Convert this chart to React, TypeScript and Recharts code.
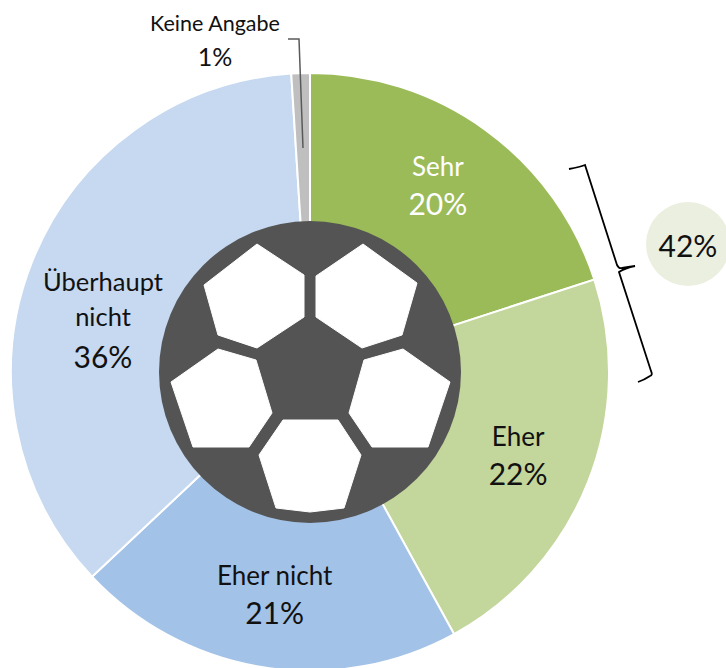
import React from "react";
import { PieChart, Pie, Cell } from "recharts";

const categories = ["Sehr", "Eher", "Eher nicht", "Überhaupt nicht", "Keine Angabe"];
const shares = [20, 22, 21, 36, 1];
const sliceColors = ["#9BBB59", "#C3D69B", "#A3C2E7", "#C6D9F0", "#BFBFBF"];
const totalLabel = "42%";

const chartData = categories.map((name, i) => ({ name, value: shares[i] }));

const FONT = "Lato, 'Open Sans', sans-serif";
const CX = 310;
const CY = 372;
const RADIUS = 299;

// Fußball-Flecken
const BALL_PATCHES = [
  "257,244 304,275 304,317 257,348 218,335 204,285",
  "363,244 417,283 402,335 362,348 316,317 316,276",
  "218,349 256,360 272,413 249,447 193,447 171,382",
  "403,349 450,382 428,447 372,447 349,413 364,360",
  "283,420 338,420 361,455 344,508 310,512 276,508 259,455",
];

const renderLabel = (props: any) => {
  const { midAngle, index, name, value } = props;
  const rad = (midAngle * Math.PI) / 180;
  const x = CX + 226 * Math.cos(rad);
  const y = CY - 226 * Math.sin(rad);
  const percent = `${value}%`;

  if (index === 4) {
    return (
      <g key="label-4" fontFamily={FONT} fill="#111" textAnchor="middle">
        <text x={215} y={31} fontSize={21.5}>{name}</text>
        <text x={215} y={66} fontSize={25}>{percent}</text>
      </g>
    );
  }
  if (index === 3) {
    return (
      <g key="label-3" fontFamily={FONT} fill="#111" textAnchor="middle">
        <text x={103} y={291} fontSize={25.5}>Überhaupt</text>
        <text x={103} y={326} fontSize={25.5}>nicht</text>
        <text x={103} y={368} fontSize={30}>{percent}</text>
      </g>
    );
  }
  const fill = index === 0 ? "#fff" : "#111";
  // kleine Korrektur je Label
  const dx = index === 0 ? -5 : index === 1 ? -2 : 0;
  const dy = index === 0 ? -3 : index === 1 ? 1 : 0;
  return (
    <g key={`label-${index}`} fontFamily={FONT} fill={fill} textAnchor="middle">
      <text x={x + dx} y={y + dy - 10} fontSize={26}>{name}</text>
      <text x={x + dx} y={y + dy + 29} fontSize={30}>{percent}</text>
    </g>
  );
};

export default function App() {
  return (
    <div style={{ position: "absolute", left: 0, top: 0, width: 726, height: 668, overflow: "hidden", background: "#fff" }}>
      <PieChart width={726} height={668} margin={{ top: 0, right: 0, bottom: 0, left: 0 }}>
        <Pie
          data={chartData}
          dataKey="value"
          nameKey="name"
          cx={CX}
          cy={CY}
          outerRadius={RADIUS}
          startAngle={90}
          endAngle={-270}
          stroke="#fff"
          strokeWidth={2}
          label={renderLabel}
          labelLine={false}
          isAnimationActive={false}
        >
          {chartData.map((d, i) => (
            <Cell key={d.name} fill={sliceColors[i]} />
          ))}
        </Pie>
      </PieChart>
      <svg width={726} height={668} style={{ position: "absolute", left: 0, top: 0 }}>
        {/* Ball */}
        <circle cx={CX} cy={CY} r={151} fill="#545454" />
        {BALL_PATCHES.map((pts) => (
          <polygon key={pts} points={pts} fill="#fff" stroke="#fff" strokeWidth={1} strokeLinejoin="round" />
        ))}
        {/* Führungslinie Keine Angabe */}
        <polyline points="288,39 299,39 303,148" fill="none" stroke="#595959" strokeWidth={1.5} />
        {/* Klammer */}
        <path
          d="M569,169 Q580,167 585,165 L617,265 Q619,269 622,268 Q628,267 635,266 M635,266 Q625,268 619,272 L651,371 Q653,375 650,376 Q644,380 638,382"
          fill="none"
          stroke="#000"
          strokeWidth={1.8}
        />
        <circle cx={688} cy={244} r={42} fill="#EBEFE0" />
        <text x={688} y={257} fontSize={30} fontFamily={FONT} fill="#111" textAnchor="middle">{totalLabel}</text>
      </svg>
    </div>
  );
}
